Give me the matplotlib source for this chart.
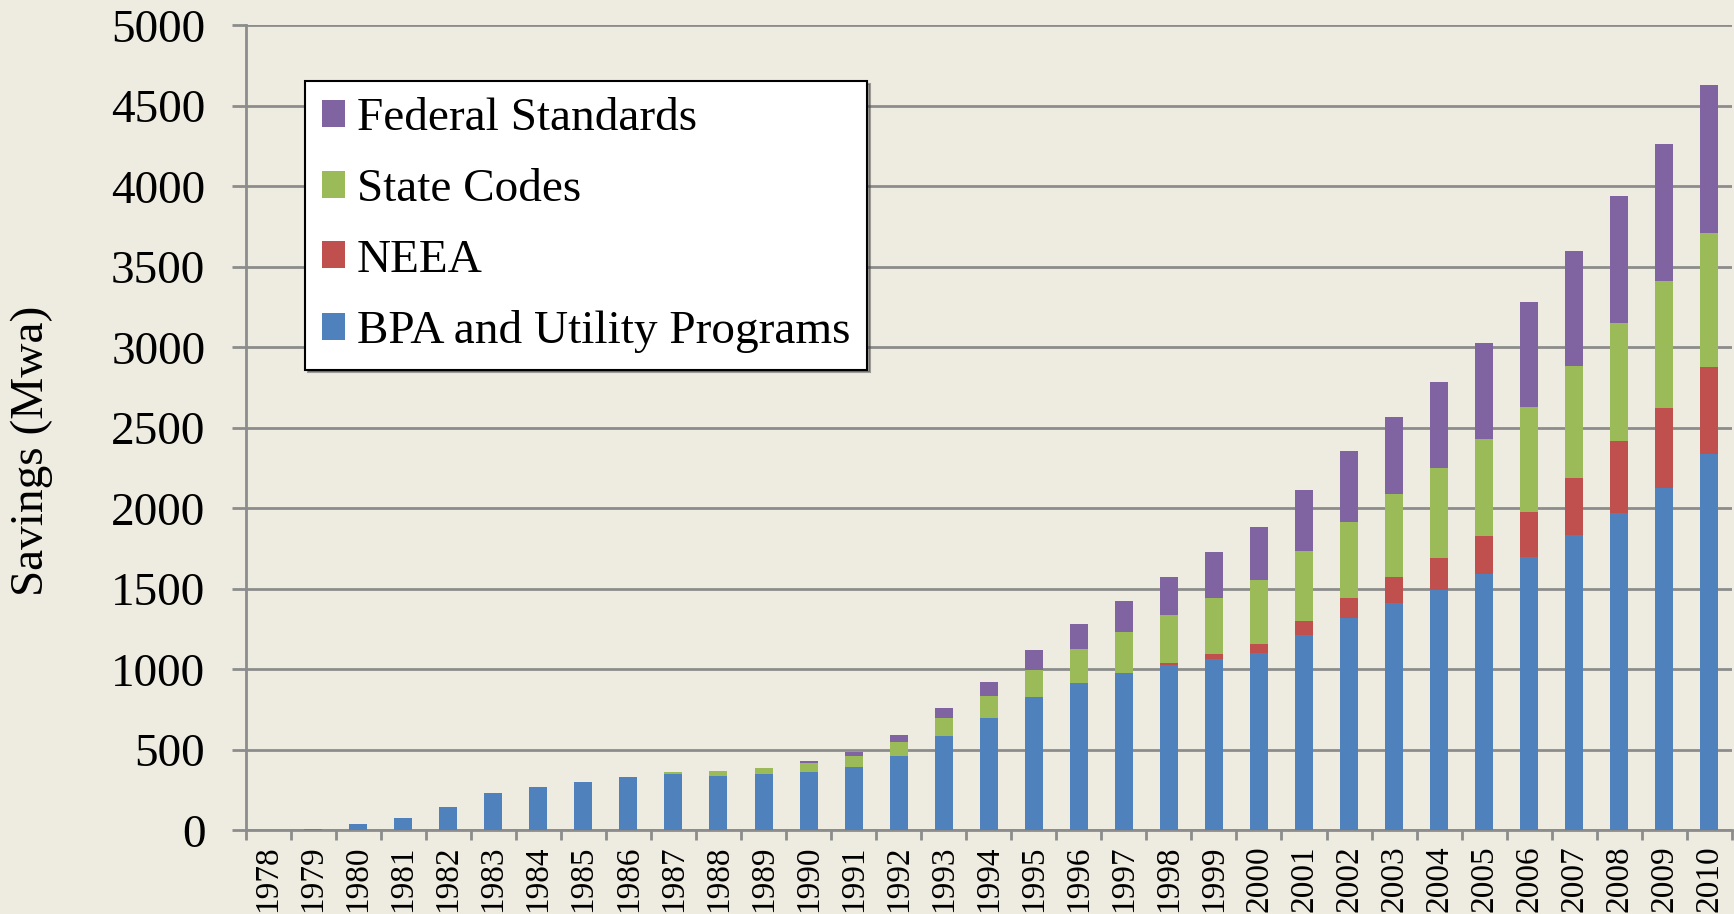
import numpy as np
import matplotlib
matplotlib.use("Agg")
import matplotlib.pyplot as plt

plt.rcParams['font.family'] = ['Liberation Serif', 'DejaVu Serif']

years = list(range(1978, 2011))
bpa = [0, 10, 39, 77, 143, 234, 270, 301, 332, 349, 340, 349, 361, 395, 465,
       589, 697, 829, 918, 976, 1028, 1063, 1105, 1212, 1318, 1415, 1496, 1595,
       1701, 1833, 1970, 2129, 2336]
neea = [0] * 20 + [12, 33, 55, 89, 126, 158, 196, 236, 279, 356, 447, 497, 545]
state = [0] * 9 + [14, 28, 39, 59, 68, 87, 112, 138, 170, 209, 257, 296, 348,
                   396, 437, 472, 515, 560, 603, 650, 694, 735, 785, 828]
federal = [0] * 12 + [12, 25, 42, 58, 87, 122, 158, 192, 238, 286, 329, 379,
                      441, 478, 534, 594, 651, 714, 787, 851, 920]

series = [("BPA and Utility Programs", bpa, "#4F81BD"),
          ("NEEA", neea, "#C0504D"),
          ("State Codes", state, "#9BBB59"),
          ("Federal Standards", federal, "#8064A2")]

bg = "#EEEBE0"
grid_c = "#8C8C8C"

fig = plt.figure(figsize=(17.34, 9.14), dpi=100, facecolor=bg)
ax = fig.add_axes([0.1416, 0.0914, 0.8572, 0.8808])
ax.set_facecolor(bg)

x = np.arange(len(years))
bottom = np.zeros(len(years))
handles = []
for name, vals, col in series:
    vals = np.array(vals, dtype=float)
    b = ax.bar(x, vals, 0.4, bottom=bottom, color=col, label=name, zorder=3)
    handles.append(b)
    bottom += vals

ax.set_xlim(-0.5, len(years) - 0.5)
ax.set_ylim(0, 5000)
ax.set_yticks(range(0, 5001, 500))
ax.yaxis.grid(True, color=grid_c, linewidth=2, zorder=0)
ax.set_axisbelow(True)

for s in ["top", "right"]:
    ax.spines[s].set_visible(False)
for s in ["left", "bottom"]:
    ax.spines[s].set_color(grid_c)
    ax.spines[s].set_linewidth(2)

ax.tick_params(axis="y", labelsize=34, length=10, width=2, color=grid_c, pad=19)
ax.set_xticks(x)
ax.set_xticklabels([str(y) for y in years], rotation=90, fontsize=24)
ax.tick_params(axis="x", which="major", length=0, pad=11)
ax.set_xticks(np.arange(-0.5, len(years)), minor=True)
ax.tick_params(axis="x", which="minor", length=7, width=2, color=grid_c)

ax.set_ylabel("Savings (Mwa)", fontsize=34)
ax.yaxis.set_label_coords(-0.1295, 0.472)

leg = ax.legend(handles[::-1], [s[0] for s in series][::-1],
                loc="upper left", bbox_to_anchor=(0.04, 0.931),
                fontsize=34, frameon=True, fancybox=False, shadow=True,
                handlelength=0.5, handleheight=0.5, handletextpad=0.25,
                labelspacing=0.6, borderpad=0.35, borderaxespad=0)
leg.get_frame().set_edgecolor("black")
leg.get_frame().set_linewidth(1.5)
leg.get_frame().set_facecolor("white")
leg.set_zorder(5)

fig.savefig("out.png", dpi=100, facecolor=bg)
